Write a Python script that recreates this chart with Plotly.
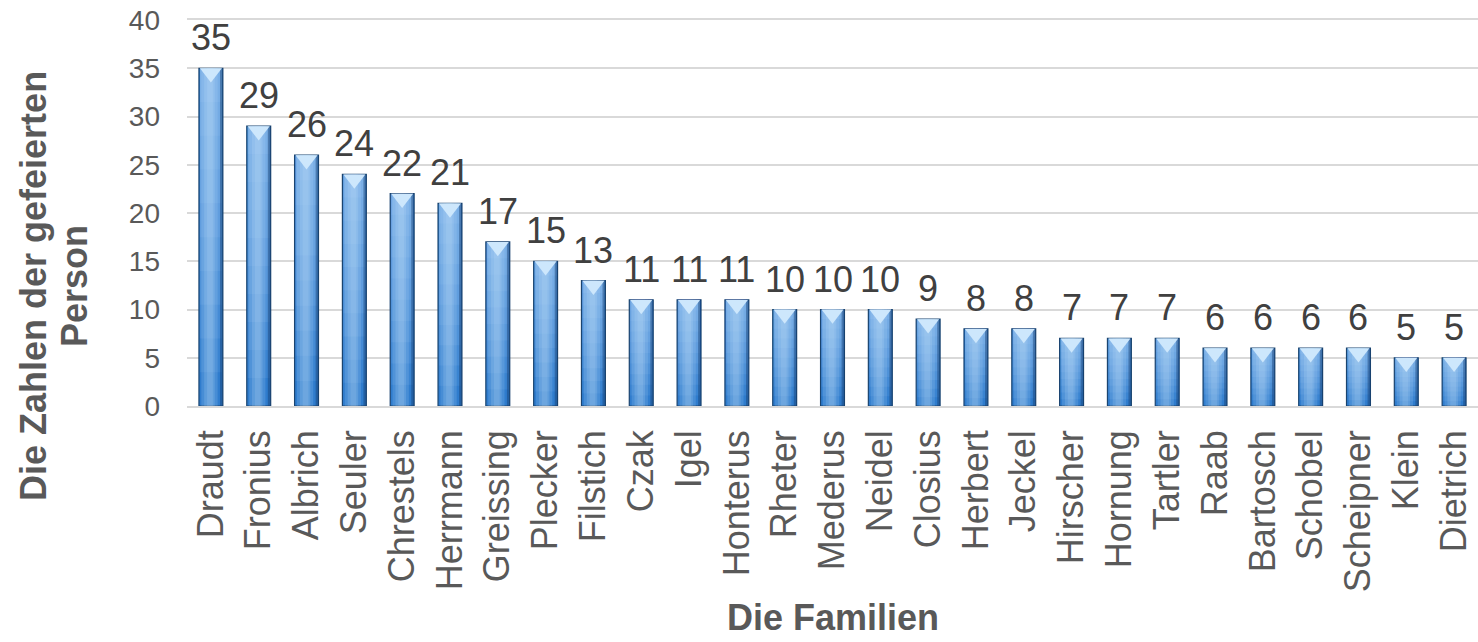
import plotly.graph_objects as go

families = ["Draudt", "Fronius", "Albrich", "Seuler", "Chrestels", "Herrmann", "Greissing",
            "Plecker", "Filstich", "Czak", "Igel", "Honterus", "Rheter", "Mederus", "Neidel",
            "Closius", "Herbert", "Jeckel", "Hirscher", "Hornung", "Tartler", "Raab", "Bartosch",
            "Schobel", "Scheipner", "Klein", "Dietrich"]
counts = [35, 29, 26, 24, 22, 21, 17, 15, 13, 11, 11, 11, 10, 10, 10, 9, 8, 8, 7, 7, 7, 6, 6, 6, 6, 5, 5]
y_ticks = [0, 5, 10, 15, 20, 25, 30, 35, 40]

x_title = "Die Familien"
y_title_1 = "Die Zahlen der gefeierten"
y_title_2 = "Person"

FONT = "Liberation Sans, Arial, sans-serif"
TXT = "#595959"
GRID = "#D9D9D9"
BW = 0.5

PLOT_L, PLOT_R, PLOT_T, PLOT_B = 187, 1478, 20, 406   # target plot area in window pixels

fig = go.Figure()

# base bar (cylinder body)
fig.add_trace(go.Bar(x=families, y=counts, width=BW, marker=dict(color="#2F7CCD", line=dict(color="#1A4470", width=1.2)),
                     hoverinfo="skip"))
# vertical gradient: lighter towards the top
n_layers = 10
for k in range(1, n_layers):
    base = [c * k / n_layers for c in counts]
    h = [c - b for c, b in zip(counts, base)]
    fig.add_trace(go.Bar(x=families, y=h, base=base, width=BW - 0.04,
                         marker=dict(color="rgba(180,220,255,0.085)", line=dict(width=0)), hoverinfo="skip"))
# horizontal highlight (cylinder shading)
for w, off, col in [(0.34, -0.2, "rgba(200,230,255,0.16)"), (0.22, -0.14, "rgba(210,236,255,0.16)"),
                    (0.12, -0.08, "rgba(220,240,255,0.13)")]:
    fig.add_trace(go.Bar(x=families, y=counts, width=w, offset=off,
                         marker=dict(color=col, line=dict(width=0)), hoverinfo="skip"))
# dark right edge
fig.add_trace(go.Bar(x=families, y=counts, width=0.06, offset=BW / 2 - 0.06,
                     marker=dict(color="rgba(20,60,110,0.45)", line=dict(width=0)), hoverinfo="skip"))

# top bevel triangle
fig.add_trace(go.Scatter(x=families, y=[c - 0.5 for c in counts], mode="markers",
                         marker=dict(symbol="triangle-down", size=19, color="#CDE7FC",
                                     line=dict(width=0)), hoverinfo="skip", cliponaxis=False))

annotations = []
for f, c in zip(families, counts):
    annotations.append(dict(x=f, y=c, xref="x", yref="y", text=str(c), showarrow=False,
                            yanchor="bottom", yshift=8, font=dict(family=FONT, size=36, color="#404040")))

pw = PLOT_R - PLOT_L
ph = PLOT_B - PLOT_T
annotations.append(dict(x=0.5, y=-0.49, xref="paper", yref="paper", text=x_title, showarrow=False,
                        xanchor="center", yanchor="top", font=dict(family=FONT, size=36, color=TXT, weight="bold")))
annotations.append(dict(x=(33 - PLOT_L) / pw, y=(PLOT_B - 286) / ph, xref="paper", yref="paper", text=y_title_1,
                        showarrow=False, textangle=-90, xanchor="center", yanchor="middle",
                        font=dict(family=FONT, size=36, color=TXT, weight="bold")))
annotations.append(dict(x=(74 - PLOT_L) / pw, y=(PLOT_B - 286) / ph, xref="paper", yref="paper", text=y_title_2,
                        showarrow=False, textangle=-90, xanchor="center", yanchor="middle",
                        font=dict(family=FONT, size=36, color=TXT, weight="bold")))

fig.update_layout(
    width=1478, height=642,
    margin=dict(l=PLOT_L, r=1478 - PLOT_R, t=PLOT_T, b=642 - PLOT_B, autoexpand=False),
    barmode="overlay",
    showlegend=False,
    plot_bgcolor="white", paper_bgcolor="white",
    font=dict(family=FONT, color=TXT),
    annotations=annotations,
    # mirror=True draws the top line (the 40 gridline sits on the plot edge)
    xaxis=dict(tickangle=-90, tickfont=dict(size=36, color=TXT), showgrid=False, automargin=False,
               range=[-0.5, len(families) - 0.5], ticklabeloverflow="allow", mirror=True,
               showline=True, linecolor=GRID, linewidth=1.5, ticks="", ticklabelstandoff=8),
    yaxis=dict(range=[0, 40], tickvals=y_ticks, tickfont=dict(size=28, color=TXT), showgrid=True,
               automargin=False, gridcolor=GRID, gridwidth=1.5, zeroline=False, showline=False,
               ticks="", ticklabelstandoff=26, ticklabeloverflow="allow"),
)

# remove the browser's default 8px page margin so the figure fills the window exactly
fig.write_html("out.html", config={"displayModeBar": False},
               post_script="document.body.style.margin='0';document.body.style.overflow='hidden';")
